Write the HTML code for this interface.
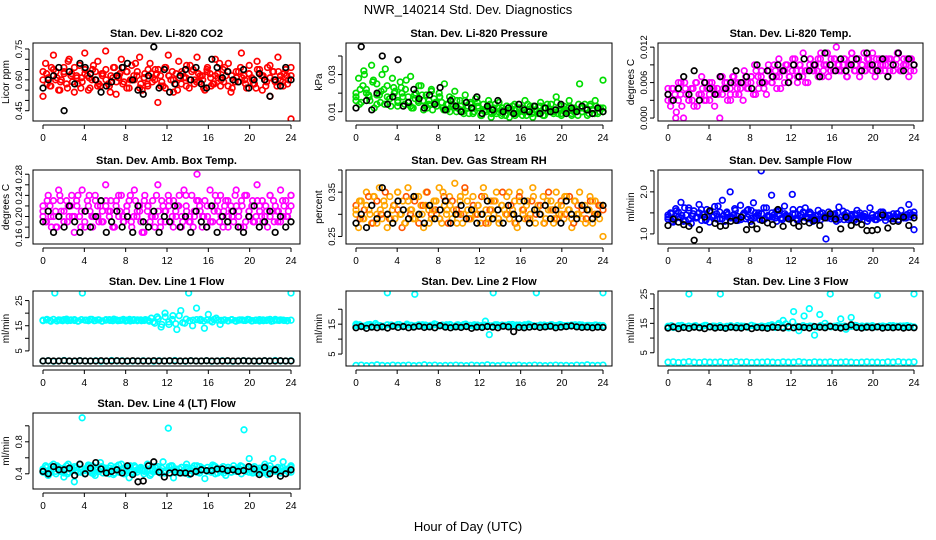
<!DOCTYPE html>
<html><head><meta charset="utf-8"><style>
html,body{margin:0;padding:0;background:#fff;}
svg{display:block;font-family:"Liberation Sans",sans-serif;}
</style></head><body>
<svg id="chart" width="936" height="540" viewBox="0 0 936 540">
<rect width="936" height="540" fill="#fff"/>
<text x="468" y="14" text-anchor="middle" font-size="13">NWR_140214  Std. Dev. Diagnostics</text>
<text x="468" y="531" text-anchor="middle" font-size="13">Hour of Day (UTC)</text>
</svg>
<script>
// ---- data ----
const xTicks=[0,4,8,12,16,20,24];
const co2Main=[0.52,0.68,0.61,0.57,0.72,0.64,0.55,0.60,0.66,0.58,0.70,0.63,0.54,0.61,0.67,0.59,0.73,0.62,0.56,0.65,0.60,0.69,0.57,0.63,0.74,0.58,0.62,0.66,0.53,0.61,0.70,0.59,0.64,0.56,0.67,0.60,0.62,0.71,0.55,0.63,0.58,0.68,0.61,0.65,0.49,0.62,0.57,0.66,0.72,0.60,0.54,0.63,0.69,0.58,0.61,0.67,0.56,0.64,0.60,0.71,0.59,0.62,0.55,0.66,0.63,0.58,0.70,0.61,0.57,0.65,0.62,0.68,0.54,0.60,0.64,0.59,0.73,0.62,0.56,0.67,0.61,0.58,0.69,0.63,0.55,0.60,0.66,0.52,0.64,0.59,0.71,0.62,0.57,0.65,0.60,0.41];
const co2MainB=[0.64,0.58,0.66,0.60,0.55,0.63,0.69,0.59,0.62,0.56,0.65,0.61,0.67,0.57,0.63,0.60,0.54,0.66,0.62,0.58,0.64,0.60,0.68,0.56,0.61,0.65,0.59,0.63,0.57,0.66,0.62,0.60,0.55,0.64,0.61,0.67,0.58,0.63,0.60,0.65,0.57,0.62,0.68,0.59,0.64,0.56,0.61,0.66,0.60,0.63,0.58,0.65,0.62,0.57,0.67,0.60,0.64,0.59,0.62,0.66];
const co2MainC=[0.60,0.63,0.57,0.65,0.61,0.59,0.64,0.56,0.62,0.66,0.58,0.61,0.63,0.55,0.60,0.64,0.58,0.62,0.65,0.57,0.61,0.59,0.63,0.66,0.56,0.60,0.62,0.64,0.58,0.61,0.57,0.63,0.60,0.65,0.59,0.56,0.62,0.64,0.58,0.61,0.63,0.57,0.60,0.65,0.59,0.62,0.56,0.64,0.61,0.58,0.63,0.60,0.66,0.57,0.62,0.59,0.64,0.61,0.58,0.63,0.60,0.56,0.65,0.62,0.59,0.61,0.64,0.57,0.60,0.63,0.58,0.62];
const co2Black=[0.56,0.60,0.62,0.66,0.45,0.64,0.58,0.68,0.66,0.63,0.60,0.54,0.57,0.59,0.62,0.66,0.68,0.60,0.55,0.53,0.62,0.76,0.56,0.65,0.54,0.58,0.62,0.65,0.60,0.66,0.58,0.56,0.70,0.66,0.61,0.64,0.60,0.59,0.65,0.56,0.60,0.63,0.60,0.52,0.60,0.57,0.66,0.60];
const presMain=[0.020,0.028,0.015,0.032,0.022,0.018,0.035,0.012,0.025,0.019,0.030,0.014,0.024,0.017,0.028,0.021,0.013,0.026,0.018,0.022,0.015,0.029,0.012,0.020,0.016,0.024,0.011,0.019,0.014,0.022,0.017,0.013,0.020,0.015,0.025,0.011,0.018,0.014,0.021,0.012,0.016,0.010,0.019,0.013,0.015,0.009,0.017,0.012,0.008,0.014,0.010,0.016,0.007,0.012,0.009,0.015,0.008,0.011,0.013,0.007,0.010,0.014,0.009,0.012,0.008,0.016,0.010,0.013,0.007,0.011,0.009,0.015,0.008,0.012,0.010,0.014,0.009,0.018,0.011,0.008,0.013,0.010,0.016,0.009,0.012,0.011,0.025,0.010,0.014,0.008,0.013,0.011,0.016,0.009,0.012,0.027];
const presMainB=[0.016,0.022,0.030,0.019,0.026,0.014,0.021,0.033,0.017,0.023,0.015,0.020,0.027,0.013,0.019,0.024,0.016,0.012,0.021,0.015,0.018,0.011,0.014,0.017,0.010,0.013,0.016,0.009,0.012,0.015,0.008,0.011,0.014,0.010,0.012,0.009,0.013,0.011,0.008,0.012,0.010,0.014,0.009,0.011,0.013,0.008,0.012,0.010,0.015,0.009,0.011,0.013,0.010,0.008,0.012,0.011,0.014,0.009,0.012,0.010];
const presMainC=[0.018,0.014,0.024,0.020,0.016,0.027,0.019,0.015,0.022,0.018,0.013,0.020,0.016,0.023,0.014,0.018,0.012,0.017,0.015,0.019,0.013,0.016,0.011,0.015,0.018,0.012,0.014,0.010,0.013,0.016,0.011,0.009,0.012,0.014,0.010,0.013,0.008,0.011,0.012,0.009,0.014,0.010,0.012,0.008,0.011,0.013,0.009,0.010,0.012,0.008,0.011,0.013,0.010,0.009,0.012,0.014,0.010,0.011,0.009,0.013,0.010,0.012,0.008,0.011,0.014,0.010,0.012,0.009,0.011,0.013,0.010,0.012];
const presBlack=[0.012,0.045,0.016,0.011,0.020,0.040,0.014,0.018,0.038,0.013,0.015,0.022,0.017,0.012,0.019,0.014,0.023,0.011,0.016,0.013,0.010,0.015,0.012,0.018,0.009,0.013,0.011,0.016,0.010,0.012,0.009,0.014,0.011,0.010,0.013,0.009,0.012,0.010,0.011,0.014,0.009,0.012,0.010,0.013,0.011,0.009,0.012,0.010];
const tempMain=[0.004,0.002,0.005,0.000,0.003,0.006,0.000,0.004,0.003,0.005,0.002,0.006,0.004,0.007,0.003,0.005,0.004,0.006,0.002,0.005,0.000,0.004,0.006,0.003,0.005,0.007,0.004,0.006,0.005,0.003,0.007,0.005,0.006,0.004,0.008,0.005,0.007,0.006,0.004,0.008,0.006,0.009,0.005,0.007,0.008,0.006,0.009,0.007,0.008,0.010,0.006,0.009,0.007,0.008,0.006,0.010,0.008,0.009,0.007,0.011,0.008,0.009,0.007,0.010,0.008,0.012,0.009,0.008,0.010,0.007,0.009,0.011,0.008,0.010,0.007,0.009,0.008,0.010,0.009,0.011,0.007,0.009,0.008,0.010,0.009,0.007,0.010,0.008,0.009,0.011,0.008,0.010,0.009,0.007,0.010,0.009];
const tempMainB=[0.003,0.005,0.001,0.004,0.006,0.003,0.005,0.002,0.004,0.006,0.003,0.005,0.004,0.007,0.005,0.003,0.006,0.004,0.006,0.005,0.007,0.004,0.006,0.005,0.008,0.006,0.007,0.005,0.008,0.006,0.009,0.007,0.008,0.006,0.009,0.008,0.010,0.007,0.009,0.008,0.010,0.008,0.009,0.007,0.010,0.009,0.008,0.011,0.009,0.008,0.010,0.009,0.008,0.010,0.009,0.011,0.008,0.009,0.010,0.008];
const tempMainC=[0.005,0.003,0.004,0.006,0.002,0.005,0.004,0.003,0.006,0.004,0.005,0.003,0.006,0.005,0.004,0.007,0.005,0.006,0.004,0.007,0.005,0.006,0.008,0.006,0.007,0.009,0.007,0.008,0.006,0.009,0.007,0.008,0.010,0.008,0.009,0.007,0.010,0.008,0.009,0.011,0.008,0.010,0.009,0.008,0.010,0.009,0.011,0.008,0.010,0.009,0.008,0.010,0.009,0.011,0.008,0.010,0.009,0.008,0.010,0.009,0.008,0.010,0.009,0.010,0.008,0.009,0.010,0.008,0.009,0.010,0.008,0.009];
const tempBlack=[0.004,0.003,0.005,0.007,0.004,0.008,0.003,0.006,0.005,0.004,0.007,0.005,0.006,0.008,0.006,0.007,0.005,0.009,0.006,0.008,0.007,0.009,0.008,0.006,0.009,0.007,0.010,0.008,0.009,0.007,0.011,0.009,0.008,0.010,0.008,0.009,0.010,0.008,0.011,0.009,0.008,0.010,0.007,0.009,0.011,0.008,0.010,0.009];
const ambMain=[0.22,0.19,0.24,0.20,0.23,0.18,0.25,0.21,0.19,0.23,0.20,0.24,0.17,0.22,0.20,0.25,0.19,0.23,0.21,0.18,0.24,0.20,0.22,0.19,0.26,0.21,0.23,0.18,0.22,0.20,0.24,0.19,0.21,0.23,0.18,0.25,0.20,0.22,0.17,0.24,0.21,0.19,0.23,0.20,0.26,0.18,0.22,0.21,0.24,0.19,0.23,0.20,0.22,0.18,0.25,0.21,0.19,0.24,0.20,0.28,0.22,0.18,0.23,0.20,0.25,0.19,0.22,0.21,0.24,0.18,0.23,0.20,0.22,0.19,0.25,0.21,0.23,0.18,0.24,0.20,0.22,0.19,0.26,0.21,0.23,0.20,0.18,0.24,0.21,0.22,0.19,0.25,0.20,0.23,0.21,0.24];
const ambMainB=[0.20,0.23,0.18,0.21,0.24,0.19,0.22,0.20,0.23,0.18,0.21,0.24,0.20,0.22,0.19,0.23,0.21,0.18,0.24,0.20,0.22,0.19,0.23,0.21,0.17,0.22,0.20,0.24,0.19,0.21,0.23,0.18,0.22,0.20,0.24,0.19,0.21,0.23,0.20,0.18,0.22,0.24,0.19,0.21,0.23,0.20,0.22,0.18,0.24,0.21,0.19,0.23,0.20,0.22,0.24,0.19,0.21,0.23,0.20,0.22];
const ambMainC=[0.21,0.19,0.22,0.20,0.18,0.23,0.21,0.19,0.22,0.20,0.24,0.21,0.18,0.22,0.20,0.23,0.19,0.21,0.22,0.20,0.18,0.23,0.21,0.19,0.22,0.24,0.20,0.21,0.19,0.23,0.22,0.20,0.18,0.21,0.23,0.19,0.22,0.20,0.21,0.24,0.19,0.22,0.20,0.18,0.23,0.21,0.20,0.22,0.19,0.21,0.23,0.20,0.22,0.18,0.21,0.24,0.20,0.22,0.19,0.21,0.23,0.20,0.22,0.19,0.21,0.20,0.23,0.21,0.19,0.22,0.20,0.24];
const ambBlack=[0.19,0.21,0.17,0.20,0.18,0.22,0.19,0.17,0.21,0.18,0.20,0.23,0.17,0.19,0.21,0.18,0.20,0.17,0.22,0.19,0.18,0.21,0.17,0.20,0.19,0.22,0.18,0.20,0.17,0.21,0.19,0.18,0.22,0.17,0.20,0.19,0.21,0.18,0.17,0.20,0.22,0.18,0.19,0.21,0.17,0.20,0.18,0.19];
const rhMain=[0.30,0.27,0.33,0.29,0.35,0.31,0.28,0.34,0.30,0.36,0.29,0.32,0.27,0.34,0.31,0.29,0.35,0.30,0.33,0.28,0.36,0.31,0.29,0.34,0.30,0.32,0.27,0.35,0.31,0.29,0.33,0.30,0.36,0.28,0.32,0.31,0.34,0.29,0.37,0.30,0.33,0.28,0.35,0.31,0.29,0.34,0.30,0.32,0.28,0.36,0.31,0.29,0.33,0.30,0.35,0.28,0.32,0.31,0.34,0.29,0.30,0.33,0.27,0.35,0.31,0.29,0.33,0.30,0.36,0.28,0.32,0.30,0.34,0.29,0.31,0.33,0.28,0.35,0.30,0.32,0.29,0.34,0.31,0.27,0.33,0.30,0.35,0.29,0.32,0.31,0.34,0.28,0.33,0.30,0.32,0.25];
const rhMainB=[0.32,0.29,0.31,0.34,0.28,0.33,0.30,0.35,0.29,0.32,0.31,0.27,0.34,0.30,0.33,0.28,0.32,0.35,0.30,0.31,0.29,0.34,0.28,0.33,0.31,0.30,0.36,0.29,0.32,0.30,0.34,0.28,0.31,0.33,0.29,0.35,0.30,0.32,0.28,0.34,0.31,0.29,0.33,0.30,0.32,0.28,0.35,0.31,0.29,0.33,0.30,0.34,0.28,0.32,0.31,0.29,0.33,0.30,0.32,0.31];
const rhMainC=[0.31,0.33,0.29,0.32,0.30,0.34,0.28,0.31,0.33,0.30,0.29,0.32,0.35,0.30,0.28,0.33,0.31,0.29,0.34,0.30,0.32,0.28,0.31,0.33,0.29,0.35,0.30,0.32,0.31,0.28,0.34,0.30,0.33,0.29,0.31,0.32,0.30,0.34,0.28,0.31,0.33,0.29,0.32,0.30,0.35,0.31,0.28,0.33,0.30,0.32,0.29,0.34,0.31,0.30,0.28,0.33,0.31,0.29,0.32,0.30,0.34,0.31,0.29,0.33,0.30,0.32,0.28,0.31,0.33,0.30,0.29,0.32];
const rhBlack=[0.28,0.30,0.27,0.32,0.29,0.36,0.30,0.28,0.33,0.31,0.29,0.34,0.30,0.28,0.32,0.29,0.31,0.33,0.28,0.30,0.32,0.29,0.31,0.28,0.30,0.33,0.29,0.31,0.28,0.32,0.30,0.29,0.33,0.28,0.31,0.30,0.32,0.29,0.31,0.28,0.33,0.30,0.29,0.32,0.31,0.29,0.30,0.32];
const flowMain=[1.35,1.50,1.28,1.60,1.40,1.75,1.30,1.45,1.62,1.25,1.55,1.38,1.70,1.32,1.48,1.58,1.28,1.42,1.65,1.35,1.52,1.80,1.30,1.46,2.00,1.38,1.56,1.32,1.68,1.44,1.36,1.58,1.30,1.74,1.42,1.50,2.50,1.34,1.62,1.40,1.92,1.46,1.30,1.55,1.38,1.66,1.42,1.35,1.94,1.48,1.32,1.58,1.40,1.62,1.36,1.50,1.30,1.44,1.56,1.34,1.40,0.88,1.52,1.36,1.46,1.30,1.64,1.40,1.34,1.50,1.38,1.44,1.32,1.56,1.36,1.42,1.48,1.30,1.62,1.38,1.34,1.46,1.40,1.52,1.32,1.44,1.36,1.48,1.40,1.34,1.56,1.42,1.38,1.70,1.46,1.10];
const flowMainB=[1.45,1.30,1.55,1.38,1.62,1.34,1.48,1.40,1.58,1.32,1.52,1.44,1.66,1.36,1.50,1.42,1.60,1.35,1.46,1.56,1.38,1.50,1.34,1.62,1.44,1.40,1.54,1.36,1.48,1.42,1.58,1.34,1.46,1.40,1.52,1.36,1.44,1.50,1.38,1.42,1.48,1.34,1.54,1.40,1.46,1.36,1.50,1.42,1.38,1.46,1.34,1.52,1.40,1.44,1.36,1.48,1.42,1.38,1.50,1.44];
const flowMainC=[1.40,1.48,1.36,1.52,1.44,1.32,1.56,1.42,1.38,1.50,1.46,1.34,1.54,1.40,1.48,1.36,1.44,1.52,1.38,1.46,1.42,1.34,1.50,1.40,1.56,1.38,1.44,1.48,1.36,1.42,1.50,1.38,1.46,1.34,1.44,1.40,1.48,1.36,1.42,1.52,1.38,1.46,1.40,1.34,1.48,1.42,1.38,1.44,1.36,1.50,1.40,1.46,1.34,1.42,1.48,1.38,1.44,1.40,1.36,1.46,1.42,1.38,1.50,1.40,1.44,1.36,1.48,1.42,1.38,1.46,1.40,1.52];
const flowBlack=[1.20,1.35,1.28,1.22,1.18,0.85,1.10,1.40,1.55,1.25,1.18,1.20,1.30,1.32,1.40,1.10,1.22,1.12,1.32,1.26,1.22,1.58,1.18,1.36,1.26,1.18,1.30,1.26,1.32,1.20,1.38,1.48,1.35,1.12,1.40,1.20,1.28,1.22,1.08,1.08,1.10,1.45,1.14,1.30,1.30,1.40,1.20,1.38];
const l1Main=[17.2,17.5,16.8,28.0,17.3,17.0,17.6,17.1,17.4,16.9,28.0,17.2,17.5,17.0,17.3,16.8,17.4,17.1,17.6,17.0,17.2,16.9,17.5,17.1,17.3,17.0,17.4,16.8,16.5,18.5,14.5,20.0,15.5,19.0,13.5,21.0,16.0,28.0,15.0,22.0,17.5,14.0,19.5,16.5,18.0,15.5,17.2,17.0,17.4,16.8,17.3,17.1,17.5,16.9,17.2,17.4,17.0,17.3,16.8,17.5,17.1,17.2,17.0,28.0];
const l1MainB=[17.0,17.3,17.1,17.5,16.9,17.2,17.4,17.0,17.3,17.1,16.8,17.4,17.2,17.0,17.5,17.1,17.3,16.9,17.2,17.4,17.0,17.3,17.1,17.5,17.2,16.9,17.4,17.0,17.3,17.1,17.2,18.0,16.0,17.8,15.5,18.5,16.5,17.5,15.8,19.0,16.2,17.6,17.0,17.2,17.4,17.1,16.9,17.3,17.0,17.5,17.2,17.1,17.3,16.9,17.4,17.0,17.2,17.3,17.1,17.4,17.0,17.2,16.9,17.3,17.1,17.5,17.0,17.2,17.3,17.1,17.0,17.2];
const l1Base=[1.0,1.1,0.9,1.0,1.2,1.0,0.9,1.1,1.0,1.0,1.1,0.9,1.0,1.2,1.0,1.1,0.9,1.0,1.0,1.1,1.0,0.9,1.1,1.0,1.0,1.2,1.0,0.9,1.1,1.0,1.0,1.1,0.9,1.0,1.1,1.0,0.9,1.0,1.1,1.0,1.0,0.9,1.1,1.0,1.2,1.0,1.0,1.1];
const l1Black=[1.0,1.1,1.0,1.0,1.1,1.0,1.0,1.1,1.0,1.0,1.0,1.1,1.0,1.0,1.1,1.0,1.0,1.1,1.0,1.0,1.0,1.1,1.0,1.0,1.1,1.0,1.0,1.0,1.1,1.0,1.0,1.1,1.0,1.0,1.0,1.1,1.0,1.0,1.1,1.0,1.0,1.0,1.1,1.0,1.0,1.1,1.0,1.0];
const l2Main=[15.0,14.6,14.2,14.8,14.4,15.2,14.5,14.3,25.5,14.7,14.4,14.9,14.2,15.0,14.6,25.0,14.5,14.8,14.3,14.6,15.1,14.4,14.7,14.5,14.9,14.2,14.8,14.5,15.0,14.6,14.3,14.7,14.5,16.0,11.5,25.5,14.8,14.4,14.6,14.9,14.3,14.7,14.5,14.8,15.0,14.4,25.5,14.6,14.7,14.3,14.8,14.5,14.9,14.4,14.6,14.7,14.5,14.8,14.3,14.6,14.5,14.7,14.4,25.5];
const l2MainB=[14.5,14.8,14.3,14.6,14.9,14.4,14.7,14.5,14.2,14.8,14.6,14.4,14.9,14.5,14.3,14.7,14.6,14.4,14.8,14.5,14.7,14.3,14.6,14.9,14.4,14.5,14.8,14.6,14.3,14.7,14.5,14.9,14.4,14.6,14.8,14.5,14.3,14.7,14.6,14.4,14.8,14.5,14.7,14.6,14.4,14.9,14.5,14.7,14.3,14.6,14.8,14.5,14.4,14.7,14.6,14.5,14.8,14.4,14.6,14.7,14.5,14.4,14.6,14.8,14.5,14.7,14.4,14.6,14.5,14.7,14.6,14.5];
const l2Base=[1.2,1.3,1.1,1.2,1.4,1.2,1.1,1.3,1.2,1.2,1.3,1.1,1.2,1.4,1.2,1.3,1.1,1.2,1.2,1.3,1.2,1.1,1.3,1.2,1.2,1.4,1.2,1.1,1.3,1.2,1.2,1.3,1.1,1.2,1.3,1.2,1.1,1.2,1.3,1.2,1.2,1.1,1.3,1.2,1.4,1.2,1.2,1.3];
const l2Black=[13.8,14.2,13.6,14.0,13.8,14.1,13.7,14.3,13.9,14.2,13.8,14.0,14.3,13.9,14.1,13.8,14.5,14.0,13.8,14.1,13.9,14.2,13.6,14.0,13.9,14.2,14.0,13.8,14.3,14.1,12.5,13.9,13.8,14.0,14.2,13.9,14.1,14.3,13.8,14.0,14.2,14.4,14.1,13.9,14.0,13.8,14.0,13.9];
const l3Main=[14.0,13.6,14.2,13.8,25.0,14.1,13.7,14.3,13.9,14.0,25.0,13.8,14.2,13.6,14.1,13.9,14.3,13.7,14.0,13.8,14.2,14.5,16.0,13.5,19.0,12.5,17.5,20.0,11.0,18.0,15.0,25.0,14.0,16.5,13.0,17.0,14.2,13.8,14.1,13.9,24.5,14.0,13.7,14.2,13.9,14.1,13.8,25.0];
const l3MainB=[13.9,14.2,13.7,14.0,14.3,13.8,14.1,13.9,14.2,13.6,14.0,14.3,13.8,14.1,13.9,14.2,13.7,14.0,14.1,13.8,14.2,13.9,14.0,13.7,14.3,14.0,13.8,14.1,13.9,14.2,14.5,13.6,15.0,13.8,14.8,13.5,15.5,14.0,13.8,14.2,13.9,14.1,14.0,13.7,14.2,13.9,14.1,13.8,14.0,14.2,13.9,14.1,13.8,14.0,14.3,13.9,14.1,13.7,14.0,14.2,13.8,14.0,14.1,13.9,14.2,13.8,14.0,14.1,13.9,14.2,14.0,13.8];
const l3Base=[1.8,1.9,1.7,1.8,2.0,1.8,1.7,1.9,1.8,1.8,1.9,1.7,1.8,2.0,1.8,1.9,1.7,1.8,1.8,1.9,1.8,1.7,1.9,1.8,1.8,2.0,1.8,1.7,1.9,1.8,1.8,1.9,1.7,1.8,1.9,1.8,1.7,1.8,1.9,1.8,1.8,1.7,1.9,1.8,2.0,1.8,1.8,1.9];
const l3Black=[13.4,13.8,13.2,13.6,13.3,13.7,13.5,13.2,13.8,13.4,13.6,13.3,13.7,13.5,13.4,13.8,13.2,13.6,13.5,13.3,13.7,13.6,13.4,13.9,13.5,13.8,13.6,13.4,13.9,13.7,13.5,14.0,13.6,13.4,13.8,14.5,13.6,13.4,13.7,13.5,13.8,13.4,13.6,13.5,13.7,13.4,13.6,13.5];
const l4Main=[0.42,0.50,0.38,0.46,0.52,0.40,0.48,0.44,0.36,0.50,0.42,0.47,0.30,0.45,0.52,1.10,0.40,0.48,0.43,0.50,0.38,0.46,0.54,0.41,0.47,0.44,0.50,0.39,0.46,0.42,0.52,0.40,0.48,0.35,0.45,0.50,0.42,0.47,0.44,0.44,0.52,0.38,0.46,0.43,0.49,0.41,0.55,0.44,0.97,0.50,0.35,0.46,0.42,0.48,0.44,0.52,0.39,0.47,0.43,0.50,0.41,0.46,0.34,0.48,0.44,0.51,0.40,0.46,0.43,0.49,0.38,0.45,0.42,0.50,0.44,0.47,0.40,0.95,0.46,0.59,0.43,0.49,0.41,0.47,0.44,0.52,0.39,0.46,0.59,0.43,0.48,0.41,0.55,0.45,0.42,0.50];
const l4MainB=[0.46,0.40,0.50,0.43,0.47,0.41,0.52,0.44,0.48,0.42,0.46,0.50,0.40,0.45,0.49,0.43,0.47,0.41,0.51,0.44,0.46,0.42,0.48,0.45,0.40,0.50,0.43,0.47,0.44,0.41,0.49,0.45,0.42,0.48,0.46,0.40,0.50,0.43,0.47,0.44,0.42,0.49,0.45,0.41,0.48,0.46,0.43,0.50,0.44,0.42,0.47,0.45,0.41,0.49,0.44,0.46,0.43,0.48,0.45,0.42];
const l4MainC=[0.44,0.48,0.41,0.46,0.50,0.43,0.47,0.40,0.45,0.49,0.42,0.46,0.44,0.51,0.41,0.47,0.43,0.48,0.45,0.40,0.46,0.49,0.42,0.47,0.44,0.50,0.41,0.45,0.48,0.43,0.46,0.40,0.49,0.44,0.47,0.42,0.45,0.50,0.43,0.46,0.41,0.48,0.44,0.47,0.42,0.49,0.45,0.43,0.46,0.50,0.41,0.47,0.44,0.48,0.42,0.46,0.45,0.49,0.43,0.47,0.41,0.46,0.44,0.48,0.42,0.50,0.45,0.43,0.47,0.44,0.46,0.48];
const l4Black=[0.43,0.40,0.49,0.45,0.45,0.47,0.38,0.52,0.40,0.47,0.54,0.46,0.41,0.43,0.45,0.41,0.50,0.39,0.30,0.31,0.50,0.55,0.42,0.36,0.41,0.42,0.41,0.41,0.40,0.43,0.45,0.44,0.44,0.46,0.46,0.44,0.45,0.43,0.44,0.49,0.46,0.39,0.48,0.40,0.45,0.37,0.40,0.45];

// ---- drawing ----
const NS='http://www.w3.org/2000/svg';
const svg=document.getElementById('chart');
function mk(tag,attrs,parent){const e=document.createElementNS(NS,tag);for(const k in attrs)e.setAttribute(k,attrs[k]);(parent||svg).appendChild(e);return e;}
const cols=[{l:33,r:300},{l:346,r:612},{l:658,r:923}];
const rows=[{t:43,b:121},{t:170,b:244},{t:291,b:366},{t:413,b:489}];
const panels=[
 {c:0,r:0,title:'Stan. Dev. Li-820 CO2',ylab:'Licor ppm',yd:[0.40,0.779],ticks:[0.45,0.5,0.55,0.6,0.65,0.7,0.75],labels:[[0.45,'0.45'],[0.6,'0.60'],[0.75,'0.75']],series:[[co2Main,'#ff0000'],[co2MainB,'#ff0000'],[co2MainC,'#ff0000'],[co2Black,'#000']]},
 {c:1,r:0,title:'Stan. Dev. Li-820 Pressure',ylab:'kPa',yd:[0.005,0.047],ticks:[0.01,0.02,0.03,0.04],labels:[[0.01,'0.01'],[0.03,'0.03']],series:[[presMain,'#00dd00'],[presMainB,'#00dd00'],[presMainC,'#00dd00'],[presBlack,'#000']]},
 {c:2,r:0,title:'Stan. Dev. Li-820 Temp.',ylab:'degrees C',yd:[-0.0005,0.0127],ticks:[0,0.003,0.006,0.009,0.012],labels:[[0,'0.000'],[0.006,'0.006'],[0.012,'0.012']],series:[[tempMain,'#ff00ff'],[tempMainB,'#ff00ff'],[tempMainC,'#ff00ff'],[tempBlack,'#000']]},
 {c:0,r:1,title:'Stan. Dev. Amb. Box Temp.',ylab:'degrees C',yd:[0.148,0.288],ticks:[0.16,0.18,0.2,0.22,0.24,0.26,0.28],labels:[[0.16,'0.16'],[0.2,'0.20'],[0.24,'0.24'],[0.28,'0.28']],series:[[ambMain,'#ff00ff'],[ambMainB,'#ff00ff'],[ambMainC,'#ff00ff'],[ambBlack,'#000']]},
 {c:1,r:1,title:'Stan. Dev. Gas Stream RH',ylab:'percent',yd:[0.233,0.40],ticks:[0.25,0.3,0.35,0.4],labels:[[0.25,'0.25'],[0.35,'0.35']],series:[[rhMain,'#ffa500'],[rhMainB,'#ff5500'],[rhMainC,'#ffa500'],[rhBlack,'#000']]},
 {c:2,r:1,title:'Stan. Dev. Sample Flow',ylab:'ml/min',yd:[0.76,2.52],ticks:[1,1.5,2,2.5],labels:[[1,'1.0'],[2,'2.0']],series:[[flowMain,'#0000ff'],[flowMainB,'#0000ff'],[flowMainC,'#0000ff'],[flowBlack,'#000']]},
 {c:0,r:2,title:'Stan. Dev. Line 1 Flow',ylab:'ml/min',yd:[-1,28.8],ticks:[5,10,15,20,25],labels:[[5,'5'],[15,'15'],[25,'25']],series:[[l1Main,'#00ffff'],[l1MainB,'#00ffff'],[l1Base,'#00ffff'],[l1Black,'#000']]},
 {c:1,r:2,title:'Stan. Dev. Line 2 Flow',ylab:'ml/min',yd:[1.0,26.1],ticks:[5,10,15,20],labels:[[5,'5'],[15,'15']],series:[[l2Main,'#00ffff'],[l2MainB,'#00ffff'],[l2Base,'#00ffff'],[l2Black,'#000']]},
 {c:2,r:2,title:'Stan. Dev. Line 3 Flow',ylab:'ml/min',yd:[0.5,26.0],ticks:[5,10,15,20,25],labels:[[5,'5'],[15,'15'],[25,'25']],series:[[l3Main,'#00ffff'],[l3MainB,'#00ffff'],[l3Base,'#00ffff'],[l3Black,'#000']]},
 {c:0,r:3,title:'Stan. Dev. Line 4 (LT) Flow',ylab:'ml/min',yd:[0.21,1.16],ticks:[0.4,0.6,0.8,1.0],labels:[[0.4,'0.4'],[0.8,'0.8']],series:[[l4Main,'#00ffff'],[l4MainB,'#00ffff'],[l4MainC,'#00ffff'],[l4Black,'#000']]}
];
panels.forEach((p,pi)=>{
 const L=cols[p.c].l,R=cols[p.c].r,T=rows[p.r].t,B=rows[p.r].b;
 const x0=L+10,x1=R-9;
 const xs=v=>x0+(v/24)*(x1-x0);
 const ys=v=>B-(v-p.yd[0])/(p.yd[1]-p.yd[0])*(B-T);
 const g=mk('g',{});
 
 
 const tt=mk('text',{x:(L+R)/2,y:T-6,'text-anchor':'middle','font-size':'11','font-weight':'bold'},g);
 tt.textContent=p.title;
 
 
 const clip=mk('clipPath',{id:'c'+pi},g);mk('rect',{x:L,y:T,width:R-L,height:B-T},clip);
 const pts=mk('g',{'clip-path':'url(#c'+pi+')'},g);
 const last=p.series.length-1;
 p.series.forEach((s,si)=>{
  const arr=s[0],n=arr.length;
  const sg=mk('g',{},pts);
  
  
  arr.forEach((v,i)=>{
   const c=mk('circle',{cx:xs(i*24/(n-1)),cy:ys(v),r:2.8,fill:'none',stroke:s[1],'stroke-width':1.7},sg);
   
   
  });
 });
 const box=mk('rect',{x:L,y:T,width:R-L,height:B-T,fill:'none',stroke:'#000','stroke-width':1},g);
 
 
 mk('line',{x1:xs(0),x2:xs(24),y1:B+4,y2:B+4,stroke:'#000'},g);
 xTicks.forEach(t=>{
  mk('line',{x1:xs(t),x2:xs(t),y1:B+4,y2:B+8,stroke:'#000'},g);
  const tl=mk('text',{x:xs(t),y:B+20,'text-anchor':'middle','font-size':'10'},g);
  tl.textContent=t;
  
  
 });
 const yt=p.ticks.filter(t=>t>=p.yd[0]&&t<=p.yd[1]);
 mk('line',{x1:L-4,x2:L-4,y1:ys(yt[0]),y2:ys(yt[yt.length-1]),stroke:'#000'},g);
 yt.forEach(t=>mk('line',{x1:L-8,x2:L-4,y1:ys(t),y2:ys(t),stroke:'#000'},g));
 p.labels.forEach(([v,s])=>{
  const yy=ys(v),xx=L-11;
  const yl=mk('text',{x:xx,y:yy,'text-anchor':'middle','font-size':'9.5',transform:`rotate(-90 ${xx} ${yy})`},g);
  yl.textContent=s;
  
  
 });
 const ylx=L-24,yly=(T+B)/2;
 const ya=mk('text',{x:ylx,y:yly,'text-anchor':'middle','font-size':'10',transform:`rotate(-90 ${ylx} ${yly})`},g);
 ya.textContent=p.ylab;
 
 
});
</script>
</body></html>
